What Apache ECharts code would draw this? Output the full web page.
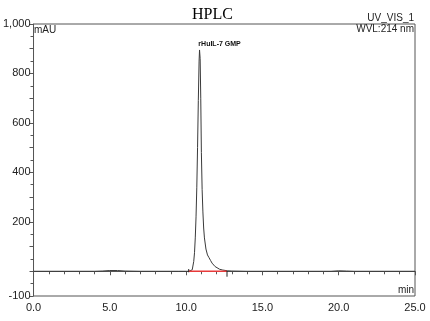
<!DOCTYPE html>
<html>
<head>
<meta charset="utf-8">
<script src="https://cdn.jsdelivr.net/npm/echarts@6/dist/echarts.min.js"></script>
<style>
html,body{margin:0;padding:0;background:#fff;}
#chart{width:430px;height:321px;}
</style>
</head>
<body>
<div id="chart"></div>
<script>
var times = [0,1,2,3,4,4.5,5,5.5,6,7,8,9,9.5,10,10.2,10.3,10.4,10.45,10.5,10.55,10.6,10.65,10.7,10.75,10.8,10.85,10.88,10.92,10.96,11.0,11.05,11.1,11.15,11.2,11.3,11.4,11.5,11.6,11.7,11.8,11.9,12.0,12.2,12.4,12.7,13,14,15,16,17,18,19,19.5,20,20.5,21,22,23,24,25];
var signal = [0,0,0,0,0,1,3,3,1,0,0,0,0,0,0,2,6,12,40,75,135,220,340,500,690,850,895,860,700,480,330,240,175,135,90,66,55,44,33,25,19,14,8,5,2,1,0,0,0,0,0,0,0,2,1,0,0,0,0,0];
var peakName = 'rHuIL-7 GMP';
var peakTime = 10.88, peakHeight = 895;
var baselineStart = 10.17, baselineEnd = 12.68;
var yTicks = [1000,800,600,400,200,-100];

var chart = echarts.init(document.getElementById('chart'));
var trace = times.map(function(t,i){return [t, signal[i]];});
var lineColor = '#3a3a3a';
chart.setOption({
  animation:false,
  backgroundColor:'#fff',
  title:{text:'HPLC', left:187, top:2, textStyle:{fontFamily:'Liberation Serif', fontSize:16, fontWeight:'normal', color:'#000'}},
  grid:{left:33, right:15, top:24, bottom:25, show:true, borderColor:'#555', borderWidth:1},
  xAxis:{type:'value', min:0, max:25, interval:5,
    axisLine:{lineStyle:{color:'#555'}},
    axisTick:{inside:false, length:4, lineStyle:{color:'#555'}},
    minorTick:{show:true, splitNumber:5, length:3, lineStyle:{color:'#555'}},
    splitLine:{show:false},
    axisLabel:{formatter:function(v){return v.toFixed(1);}, color:'#222', fontFamily:'Liberation Sans', fontSize:11, margin:6}
  },
  yAxis:{type:'value', min:-100, max:1000, interval:100,
    axisLine:{show:true, lineStyle:{color:'#555'}},
    axisTick:{show:true, inside:false, length:4, lineStyle:{color:'#555'}},
    minorTick:{show:true, splitNumber:2, length:3, lineStyle:{color:'#555'}},
    splitLine:{show:false},
    axisLabel:{color:'#222', fontFamily:'Liberation Sans', fontSize:11, margin:3,
      formatter:function(v){ if(yTicks.indexOf(v)<0) return ''; return v.toLocaleString('en-US');}}
  },
  graphic:[
    {type:'text', right:16, top:13, style:{text:'UV_VIS_1', font:'10px "Liberation Sans"', fill:'#222'}},
    {type:'text', right:16, top:24, style:{text:'WVL:214 nm', font:'10px "Liberation Sans"', fill:'#222'}},
    {type:'text', left:34, top:25, style:{text:'mAU', font:'10px "Liberation Sans"', fill:'#222'}},
    {type:'text', right:16, top:285, style:{text:'min', font:'10px "Liberation Sans"', fill:'#222'}}
  ],
  series:[
    {type:'line', data:trace, showSymbol:false, symbol:'none', lineStyle:{color:lineColor, width:1}, z:3,
      markPoint:{symbol:'circle', symbolSize:0, data:[{coord:[peakTime,peakHeight], label:{show:true, formatter:peakName, position:'top', offset:[20,3], fontSize:7, fontWeight:'bold', fontFamily:'Liberation Sans', color:'#111'}}]}
    },
    {type:'line', data:[[baselineStart,0],[baselineEnd,0]], showSymbol:false, symbol:'none', lineStyle:{color:'#e83a3a', width:1.5}, z:4},
    {type:'line', data:[[baselineStart,-4],[baselineStart,9]], showSymbol:false, symbol:'none', lineStyle:{color:'#222', width:1}, z:5},
    {type:'line', data:[[baselineEnd,2],[baselineEnd,-22]], showSymbol:false, symbol:'none', lineStyle:{color:'#222', width:1}, z:5}
  ]
});
</script>
</body>
</html>
